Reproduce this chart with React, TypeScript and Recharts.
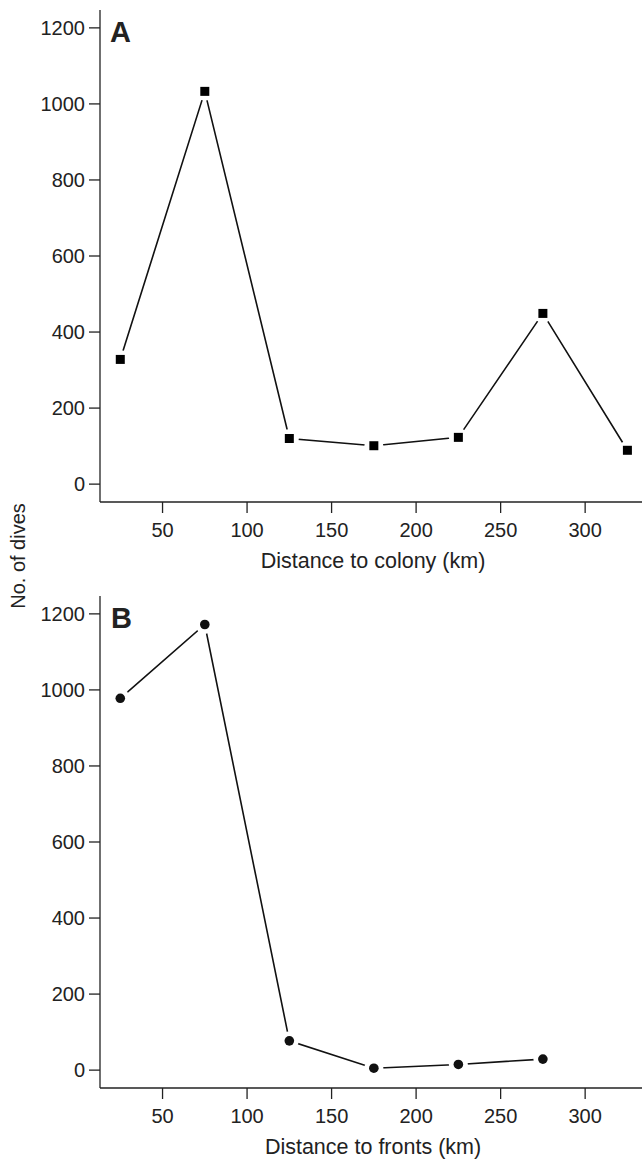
import React from 'react'
import { ComposedChart, Scatter, XAxis, YAxis } from 'recharts'

// bin centres (km) and dive counts
const colonyBins = [25, 75, 125, 175, 225, 275, 325]
const colonyDives = [328, 1033, 120, 101, 123, 449, 89]
const frontBins = [25, 75, 125, 175, 225, 275]
const frontDives = [978, 1172, 77, 5, 15, 29]

const xTicks = [50, 100, 150, 200, 250, 300]
const yTicks = [0, 200, 400, 600, 800, 1000, 1200]

const colonyData = colonyBins.map((x, i) => ({ x, dives: colonyDives[i] }))
const frontData = frontBins.map((x, i) => ({ x, dives: frontDives[i] }))

const ink = '#222'
const axisStyle = { stroke: ink, strokeWidth: 1.3 }
const W = 660
const H = 582
const margin = { top: 10, right: 14, bottom: 0, left: 0 }

// white halo behind each marker leaves the small gap where the line meets it
const SquareMark = (props: any) => {
    const { cx, cy } = props
    return (
        <g>
            <circle cx={cx} cy={cy} r={9.5} fill="#fff" />
            <rect x={cx - 4.5} y={cy - 4.5} width={9} height={9} fill="#000" />
        </g>
    )
}

const RoundMark = (props: any) => {
    const { cx, cy } = props
    return (
        <g>
            <circle cx={cx} cy={cy} r={9.5} fill="#fff" />
            <circle cx={cx} cy={cy} r={4.8} fill="#111" />
        </g>
    )
}

function Panel({ data, mark, xTitle, top }: { data: any[]; mark: any; xTitle: string; top: number }) {
    return (
        <div style={{ position: 'absolute', left: 0, top, width: W, height: H }}>
            <ComposedChart width={W} height={H} data={data} margin={margin}>
                <XAxis
                    dataKey="x"
                    type="number"
                    domain={[13, 336]}
                    ticks={xTicks}
                    interval={0}
                    height={80}
                    tickSize={11}
                    tickMargin={10}
                    axisLine={axisStyle}
                    tickLine={axisStyle}
                    tick={{ fill: ink, fontSize: 20 }}
                    label={{ value: xTitle, position: 'insideBottom', offset: 14, fill: ink, fontSize: 21.5 }}
                />
                <XAxis
                    xAxisId="top"
                    orientation="top"
                    dataKey="x"
                    type="number"
                    domain={[13, 336]}
                    height={0}
                    tick={false}
                    tickLine={false}
                    axisLine={axisStyle}
                />
                <YAxis
                    type="number"
                    domain={[-47, 1247]}
                    ticks={yTicks}
                    interval={0}
                    width={100}
                    tickSize={11}
                    tickMargin={4}
                    axisLine={axisStyle}
                    tickLine={axisStyle}
                    tick={{ fill: ink, fontSize: 20 }}
                />
                {/* scatter draws its joining line first, then the markers over it */}
                <Scatter
                    dataKey="dives"
                    fill="#111"
                    line={{ stroke: '#111', strokeWidth: 1.6 }}
                    lineType="joint"
                    shape={mark}
                    isAnimationActive={false}
                />
            </ComposedChart>
        </div>
    )
}

export default function App() {
    return (
        <div
            style={{
                position: 'absolute',
                left: 0,
                top: 0,
                width: 642,
                height: 1160,
                overflow: 'hidden',
                background: '#fff',
                fontFamily: '"Liberation Sans", Arial, sans-serif',
            }}
        >
            <Panel data={colonyData} mark={SquareMark} xTitle="Distance to colony (km)" top={0} />
            <Panel data={frontData} mark={RoundMark} xTitle="Distance to fronts (km)" top={586} />
            <svg width={642} height={1160} style={{ position: 'absolute', left: 0, top: 0, pointerEvents: 'none' }}>
                <text x={110} y={42} fontSize={29} fontWeight="bold" fill={ink}>A</text>
                <text x={111} y={628} fontSize={29} fontWeight="bold" fill={ink}>B</text>
                <text
                    x={25}
                    y={556}
                    fontSize={20}
                    fill={ink}
                    textAnchor="middle"
                    transform="rotate(-90 25 556)"
                >
                    No. of dives
                </text>
            </svg>
        </div>
    )
}
